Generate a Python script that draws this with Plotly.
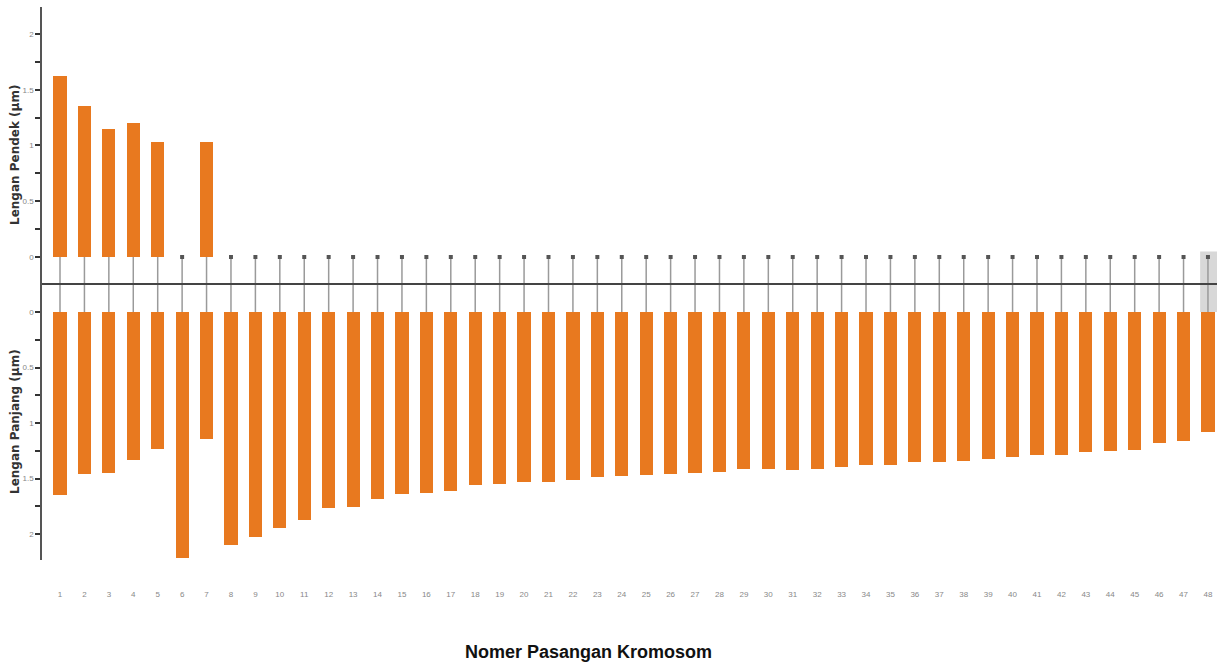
import plotly.graph_objects as go

# ---- data ----
chromosomes = list(range(1, 49))
tick_labels = [str(c) for c in chromosomes]
short_arm = [1.62, 1.35, 1.15, 1.20, 1.03, 0.00, 1.03, 0.00, 0.00, 0.00,
             0.00, 0.00, 0.00, 0.00, 0.00, 0.00, 0.00, 0.00, 0.00, 0.00,
             0.00, 0.00, 0.00, 0.00, 0.00, 0.00, 0.00, 0.00, 0.00, 0.00,
             0.00, 0.00, 0.00, 0.00, 0.00, 0.00, 0.00, 0.00, 0.00, 0.00,
             0.00, 0.00, 0.00, 0.00, 0.00, 0.00, 0.00, 0.00]
long_arm = [1.65, 1.46, 1.45, 1.33, 1.23, 2.22, 1.14, 2.10, 2.03, 1.95,
            1.87, 1.77, 1.76, 1.68, 1.64, 1.63, 1.61, 1.56, 1.55, 1.53,
            1.53, 1.51, 1.49, 1.48, 1.47, 1.46, 1.45, 1.44, 1.41, 1.41,
            1.42, 1.41, 1.40, 1.38, 1.38, 1.35, 1.35, 1.34, 1.32, 1.31,
            1.29, 1.29, 1.26, 1.25, 1.24, 1.18, 1.16, 1.08]
y_tickvals = [0, 0.5, 1, 1.5, 2]
y_ticktext = ["0", "0.5", "1", "1.5", "2"]
y_minor = [0.25, 0.75, 1.25, 1.75]

# ---- style / layout constants ----
ORANGE = "#E8791F"
W, H = 1217, 668
TOP_RANGE = [-0.4933, 2.242]
BOT_RANGE = [2.234, 0]
CENTRO_LEVEL = -0.242

fig = go.Figure()

fig.add_trace(go.Bar(x=chromosomes, y=short_arm, xaxis="x", yaxis="y",
                     marker=dict(color=ORANGE, line=dict(width=0)), width=0.54,
                     name="Lengan Pendek"))
fig.add_trace(go.Bar(x=chromosomes, y=long_arm, xaxis="x", yaxis="y2",
                     marker=dict(color=ORANGE, line=dict(width=0)), width=0.54,
                     name="Lengan Panjang"))

# centromere connectors
cx, cy = [], []
for c in chromosomes:
    cx += [c, c, None]
    cy += [0, TOP_RANGE[0], None]
fig.add_trace(go.Scatter(x=cx, y=cy, mode="lines", xaxis="x", yaxis="y",
                         line=dict(color="#9a9a9a", width=1.5), hoverinfo="skip"))

# dots where short arm is zero
zx = [c for c, s in zip(chromosomes, short_arm) if s == 0]
zy = [0 for _ in zx]
fig.add_trace(go.Scatter(x=zx, y=zy, mode="markers", xaxis="x", yaxis="y",
                         marker=dict(symbol="square", size=4, color="#555"),
                         hoverinfo="skip"))

fig.add_shape(type="line", xref="paper", yref="y", x0=0, x1=1,
              y0=CENTRO_LEVEL, y1=CENTRO_LEVEL, line=dict(color="#444", width=2))
fig.add_shape(type="rect", xref="x", yref="y", x0=47.68, x1=48.4,
              y0=TOP_RANGE[0], y1=0.05, fillcolor="#d8d8d8", line=dict(width=0),
              layer="below")

axis_common = dict(showline=True, linecolor="#555", linewidth=1.5,
                   ticks="outside", ticklen=5, tickwidth=2, tickcolor="#333",
                   tickmode="array", tickvals=y_tickvals, ticktext=y_ticktext,
                   tickfont=dict(size=8, color="#888", family="Liberation Sans"),
                   showgrid=False, zeroline=False, automargin=False,
                   minor=dict(tickmode="array", tickvals=y_minor, ticks="outside",
                              ticklen=5, tickwidth=2, tickcolor="#333"))

fig.update_layout(
    width=W, height=H,
    margin=dict(l=42, r=0, t=0, b=0),
    paper_bgcolor="white", plot_bgcolor="white",
    showlegend=False, bargap=0,
    xaxis=dict(range=[0.263, 48.37], domain=[0, 1], anchor="free",
               position=1 - 588 / H, showline=False, showgrid=False,
               zeroline=False, ticks="", tickmode="array",
               tickvals=chromosomes, ticktext=tick_labels,
               tickfont=dict(size=8, color="#888", family="Liberation Sans"),
               automargin=False),
    yaxis=dict(domain=[1 - 312 / H, 1 - 7 / H], range=TOP_RANGE, anchor="x", **axis_common),
    yaxis2=dict(domain=[1 - 560 / H, 1 - 312 / H], range=BOT_RANGE, anchor="x", **axis_common),
    annotations=[
        dict(text="Nomer Pasangan Kromosom", xref="paper", yref="paper",
             x=(588 - 42) / 1175, y=1 - 652 / H, xanchor="center", yanchor="middle",
             showarrow=False,
             font=dict(size=18, color="#111", family="Liberation Sans",
                       weight="bold")),
        dict(text="Lengan Pendek (µm)", xref="paper", yref="paper",
             x=-27 / 1175, y=1 - 155 / H, xanchor="center", yanchor="middle",
             textangle=-90, showarrow=False,
             font=dict(size=12, color="#333", family="DejaVu Sans", weight="bold")),
        dict(text="Lengan Panjang (µm)", xref="paper", yref="paper",
             x=-27 / 1175, y=1 - 422 / H, xanchor="center", yanchor="middle",
             textangle=-90, showarrow=False,
             font=dict(size=12, color="#333", family="DejaVu Sans", weight="bold")),
    ],
)

fig.write_html("out.html")
